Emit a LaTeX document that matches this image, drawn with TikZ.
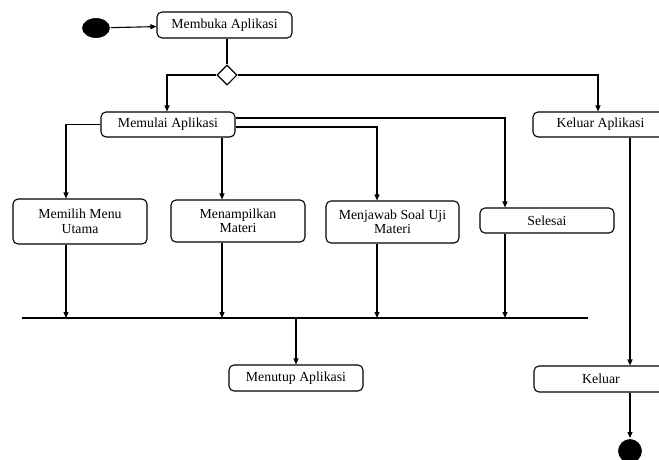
\documentclass[tikz,border=0pt]{standalone}
\usepackage{fontspec}
\setmainfont{Liberation Serif}
\usetikzlibrary{shapes.geometric,arrows.meta}
\begin{document}
\begin{tikzpicture}[x=1pt,y=-1pt,
  act/.style={draw,line width=1.1pt,rounded corners=5pt,align=center,inner sep=2pt,
    font=\fontsize{13.8}{14.5}\selectfont,minimum width=134pt},
  arr/.style={line width=1.1pt,-{Triangle[length=6pt,width=5pt]}},
  ln/.style={line width=1.1pt}]
\useasboundingbox (0,0) rectangle (659,459);
\node[ellipse,fill=black,draw=white,line width=1pt,minimum width=29pt,minimum height=21pt,inner sep=0pt] (start) at (96,28) {};
\node[act,minimum height=26pt,minimum width=135pt] (b1) at (224.5,25) {Membuka Aplikasi};
\node[diamond,draw,line width=1.1pt,minimum width=20pt,minimum height=20pt,inner sep=0pt] (d) at (227,75) {};
\node[act,minimum height=25pt] (m) at (168,124.5) {Memulai Aplikasi};
\node[act,minimum height=25pt,minimum width=135pt] (ka) at (600.5,124.5) {Keluar Aplikasi};
\node[act,minimum height=45pt] (p1) at (80,221.5) {Memilih Menu\\Utama};
\node[act,minimum height=42pt] (p2) at (238,221) {Menampilkan\\Materi};
\node[act,minimum height=42pt,minimum width=133pt] (p3) at (392.5,222) {Menjawab Soal Uji\\Materi};
\node[act,minimum height=25pt] (p4) at (547,220.5) {Selesai};
\node[act,minimum height=26pt] (mt) at (296,378) {Menutup Aplikasi};
\node[act,minimum height=26pt] (k) at (601,379) {Keluar};
\node[circle,fill=black,draw=white,line width=1pt,minimum size=25pt,inner sep=0pt] (end) at (630,451) {};
\coordinate (barL) at (22,318);
\coordinate (barR) at (588,318);
\coordinate (x1) at (66,0);
\coordinate (x2) at (222,0);
\coordinate (x3) at (377,0);
\coordinate (x4) at (505,0);
\coordinate (x5) at (630,0);
\draw[arr] (start) -- (b1);
\draw[ln] (b1.south -| d) -- (d.north);
\draw[arr] (d.west) -| (m.north -| 167,0);
\draw[arr] (d.east) -| (ka.north -| 598,0);
\draw[arr] (m.west) -| (p1.north -| x1);
\draw[arr] (m.south -| x2) -- (p2.north -| x2);
\draw[arr] ([yshift=-2.5pt]m.east) -| (p3.north -| x3);
\draw[arr] ([yshift=6.5pt]m.east) -| (p4.north -| x4);
\draw[ln] (barL) -- (barR);
\draw[arr] (p1.south -| x1) -- (barL -| x1);
\draw[arr] (p2.south -| x2) -- (barL -| x2);
\draw[arr] (p3.south -| x3) -- (barL -| x3);
\draw[arr] (p4.south -| x4) -- (barL -| x4);
\draw[arr] (barL -| mt.north) -- (mt.north);
\draw[arr] (ka.south -| x5) -- (k.north -| x5);
\draw[arr] (k.south -| x5) -- (end.north);
\end{tikzpicture}
\end{document}
